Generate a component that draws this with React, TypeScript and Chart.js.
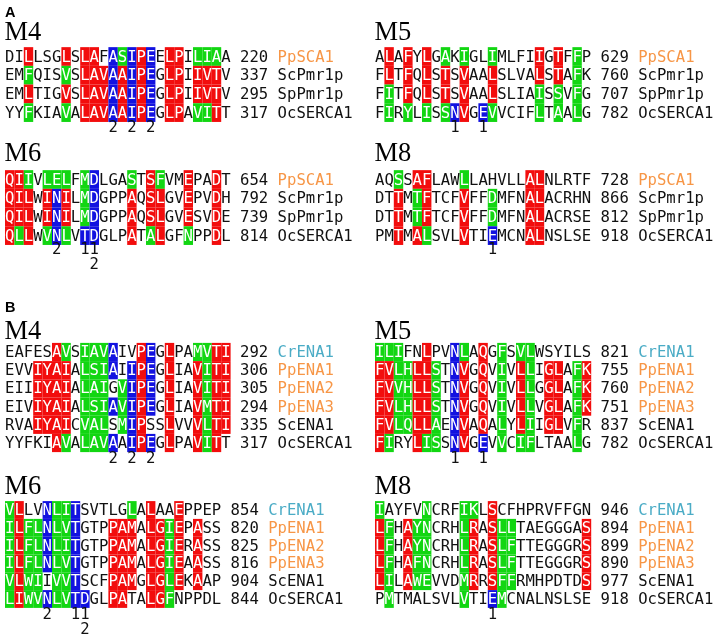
import React, { useEffect, useRef } from "react";
import { Chart, registerables } from "chart.js";
Chart.register(...registerables);

// ---------- Panel A data ----------
const A_NAMES = ["PpSCA1", "ScPmr1p", "SpPmr1p", "OcSERCA1"];

const A_M4_SEQ = [
  "DILLSGLSLAFASIPEELPILIAA",
  "EMFQISVSLAVAAIPEGLPIIVTV",
  "EMLTIGVSLAVAAIPEGLPIIVTV",
  "YYFKIAVALAVAAIPEGLPAVITT",
];
const A_M4_HL = [
  "..r...r.rr.bgbrb.rr.ggg.",
  "..g...g.rrrbrbrb.rr.rrr.",
  "..r...r.rrrbrbrb.rr.rrr.",
  "..g...g.rrrbrbrb.rr.ggr.",
];
const A_M4_NUM = ["220", "337", "295", "317"];
const A_M4_MARK_COL = [11, 13, 15];
const A_M4_MARK_TXT = ["2", "2", "2"];
const A_M4_MARK_LINE = [0, 0, 0];

const A_M5_SEQ = [
  "ALAFYLGAKIGLIMLFIIGTFFP",
  "FLTFQLSTSVAALSLVALSTAFK",
  "FITFQLSTSVAALSLIAISSVFG",
  "FIRYLISSNVGEVVCIFLTAALG",
];
const A_M5_HL = [
  ".r.r.r.g.g..g....r.r.g.",
  ".r.r.r.r.r..r....r.r.g.",
  ".g.r.r.r.r..r....g.g.g.",
  ".g.g.g.gbr.bg....g.g.g.",
];
const A_M5_NUM = ["629", "760", "707", "782"];
const A_M5_MARK_COL = [8, 11];
const A_M5_MARK_TXT = ["1", "1"];
const A_M5_MARK_LINE = [0, 0];

const A_M6_SEQ = [
  "QIIVLELFMDLGASTSFVMEPADT",
  "QILWINILMDGPPAQSLGVEPVDH",
  "QILWINILMDGPPAQSLGVESVDE",
  "QLLWVNLVTDGLPATALGFNPPDL",
];
const A_M6_HL = [
  "rrg.ggg.gb...g.rg..r..r.",
  "rrr.rbr.gb...r.rr..r..r.",
  "rrr.rbr.gb...r.rr..r..r.",
  "rgr.gbg.bb...r.gr..g..r.",
];
const A_M6_NUM = ["654", "792", "739", "814"];
const A_M6_MARK_COL = [5, 8, 9, 9];
const A_M6_MARK_TXT = ["2", "1", "1", "2"];
const A_M6_MARK_LINE = [0, 0, 0, 1];

const A_M8_SEQ = [
  "AQSSAFLAWLLAHVLLALNLRTF",
  "DTTMTFTCFVFFDMFNALACRHN",
  "DTTMTFTCFVFFDMFNALACRSE",
  "PMTMALSVLVTIEMCNALNSLSE",
];
const A_M8_HL = [
  "..g.rr...g......rr.....",
  "..r.gr...r..g...rr.....",
  "..r.gr...r..g...rr.....",
  "..r.rg...r..b...rr.....",
];
const A_M8_NUM = ["728", "866", "812", "918"];
const A_M8_MARK_COL = [12];
const A_M8_MARK_TXT = ["1"];
const A_M8_MARK_LINE = [0];

// ---------- Panel B data ----------
const B_NAMES = ["CrENA1", "PpENA1", "PpENA2", "PpENA3", "ScENA1", "OcSERCA1"];

const B_M4_SEQ = [
  "EAFESAVSIAVAIVPEGLPAMVTI",
  "EVVIYAIALSIAIIPEGLIAVITI",
  "EIIIYAIALAIGVIPEGLIAVITI",
  "EIVIYAIALSIAVIPEGLIAVMTI",
  "RVAIYAICVALSMIPSSLVVVLTI",
  "YYFKIAVALAVAAIPEGLPAVITT",
];
const B_M4_HL = [
  ".....rg.gggb..rb.r..ggrr",
  "...rrrr.gggb.brb.r..rgrr",
  "...rrrr.ggg.gbrb.r..rgrr",
  "...rrrr.gggbgbrb.r..rgrr",
  "...rrrr.ggg.gbr..r..rgrr",
  ".....rg.gggb.brb.r..rgr.",
];
const B_M4_NUM = ["292", "306", "305", "294", "335", "317"];
const B_M4_MARK_COL = [11, 13, 15];
const B_M4_MARK_TXT = ["2", "2", "2"];
const B_M4_MARK_LINE = [0, 0, 0];

const B_M5_SEQ = [
  "ILIFNLPVNLAQGFSVLWSYILS",
  "FVLHLLSTNVGQVIVLLIGLAFK",
  "FVVHLLSTNVGQVIVLLGGLAFK",
  "FVLHLLSTNVGQVIVLLVGLAFK",
  "FVLQLLAENVAQALYLIIGLVFR",
  "FIRYLISSNVGEVVCIFLTAALG",
];
const B_M5_HL = [
  "ggg..r..bg.r.g.gg......",
  "rrggrrg.br.r.g.rg.rr.gr",
  "rrggrrg.br.r.g.rg.rr.gr",
  "rrggrrg.br.r.g.rg.rr.gr",
  "rrggrrg.br.r.g.rg.rr.g.",
  "rg..rgg.br.b.g.gg....g.",
];
const B_M5_NUM = ["821", "755", "760", "751", "837", "782"];
const B_M5_MARK_COL = [8, 11];
const B_M5_MARK_TXT = ["1", "1"];
const B_M5_MARK_LINE = [0, 0];

const B_M6_SEQ = [
  "VLLVNLITSVTLGLALAAEPPEP",
  "ILFLNLVTGTPPAMALGIEPASS",
  "ILFLNLITGTPPAMALGIERASS",
  "ILFLNLVTGTPPAMALGIEAASS",
  "VLWIIVVTSCFPAMGLGLEKAAP",
  "LIWVNLVTDGLPATALGFNPPDL",
];
const B_M6_HL = [
  "gr..bggb.....g.r..r....",
  "grggbggb...rrr.rrgr.r..",
  "grggbggb...rrr.rrgr.r..",
  "grggbggb...rrr.rrgr.r..",
  "grgg.ggb...rrr.rrgr.r..",
  "grggbggbb..rr..rrg.....",
];
const B_M6_NUM = ["854", "820", "825", "816", "904", "844"];
const B_M6_MARK_COL = [4, 7, 8, 8];
const B_M6_MARK_TXT = ["2", "1", "1", "2"];
const B_M6_MARK_LINE = [0, 0, 0, 1];

const B_M8_SEQ = [
  "IAYFVNCRFIKLSCFHPRVFFGN",
  "LFHAYNCRHLRASLLTAEGGGAS",
  "LFHAYNCRHLRASLFTTEGGGRS",
  "LFHAFNCRHLRASLFTTEGGGRS",
  "LILAWEVVDMRRSFFRMHPDTDS",
  "PMTMALSVLVTIEMCNALNSLSE",
];
const B_M8_HL = [
  "g....g...gg.r..........",
  "rg.rgg...gr.rgg.......r",
  "rg.rgg...gr.rgg.......r",
  "rg.rgg...gr.rgg.......r",
  "rg.rgg...gr.rgg.......r",
  ".g.......g..bg.........",
];
const B_M8_NUM = ["946", "894", "899", "890", "977", "918"];
const B_M8_MARK_COL = [12];
const B_M8_MARK_TXT = ["1"];
const B_M8_MARK_LINE = [0];

// ---------- styles / layout ----------
const CW = 9.4;
const SEQ_FONT = "15.6px 'DejaVu Sans Mono', 'Liberation Mono', monospace";
const TITLE_FONT = "26.5px 'Liberation Serif', 'DejaVu Serif', serif";
const PANEL_FONT = "bold 14.5px 'Liberation Sans', Arial, sans-serif";
const HL_COLORS: Record<string, string> = { r: "#f20d0d", g: "#12d612", b: "#1212e0" };
const NAME_COLORS: Record<string, string> = {
  PpSCA1: "#f79646",
  PpENA1: "#f79646",
  PpENA2: "#f79646",
  PpENA3: "#f79646",
  CrENA1: "#4bacc6",
};

type Block = {
  title: string; x0: number; titleY: number; row0: number; pitch: number; markGap: number;
  seqs: string[]; hl: string[]; nums: string[]; names: string[];
  markCol: number[]; markTxt: string[]; markLine: number[];
};

const BLOCKS: Block[] = [
  { title: "M4", x0: 5, titleY: 40, row0: 56.5, pitch: 18.7, markGap: 15, seqs: A_M4_SEQ, hl: A_M4_HL, nums: A_M4_NUM, names: A_NAMES, markCol: A_M4_MARK_COL, markTxt: A_M4_MARK_TXT, markLine: A_M4_MARK_LINE },
  { title: "M5", x0: 375, titleY: 40, row0: 56.5, pitch: 18.7, markGap: 15, seqs: A_M5_SEQ, hl: A_M5_HL, nums: A_M5_NUM, names: A_NAMES, markCol: A_M5_MARK_COL, markTxt: A_M5_MARK_TXT, markLine: A_M5_MARK_LINE },
  { title: "M6", x0: 5, titleY: 160.5, row0: 179.5, pitch: 18.7, markGap: 14.5, seqs: A_M6_SEQ, hl: A_M6_HL, nums: A_M6_NUM, names: A_NAMES, markCol: A_M6_MARK_COL, markTxt: A_M6_MARK_TXT, markLine: A_M6_MARK_LINE },
  { title: "M8", x0: 375, titleY: 160.5, row0: 179.5, pitch: 18.7, markGap: 14.5, seqs: A_M8_SEQ, hl: A_M8_HL, nums: A_M8_NUM, names: A_NAMES, markCol: A_M8_MARK_COL, markTxt: A_M8_MARK_TXT, markLine: A_M8_MARK_LINE },
  { title: "M4", x0: 5, titleY: 338.5, row0: 352, pitch: 18.2, markGap: 16, seqs: B_M4_SEQ, hl: B_M4_HL, nums: B_M4_NUM, names: B_NAMES, markCol: B_M4_MARK_COL, markTxt: B_M4_MARK_TXT, markLine: B_M4_MARK_LINE },
  { title: "M5", x0: 375, titleY: 338.5, row0: 352, pitch: 18.2, markGap: 16, seqs: B_M5_SEQ, hl: B_M5_HL, nums: B_M5_NUM, names: B_NAMES, markCol: B_M5_MARK_COL, markTxt: B_M5_MARK_TXT, markLine: B_M5_MARK_LINE },
  { title: "M6", x0: 5, titleY: 493.5, row0: 510, pitch: 17.8, markGap: 16, seqs: B_M6_SEQ, hl: B_M6_HL, nums: B_M6_NUM, names: B_NAMES, markCol: B_M6_MARK_COL, markTxt: B_M6_MARK_TXT, markLine: B_M6_MARK_LINE },
  { title: "M8", x0: 375, titleY: 493.5, row0: 510, pitch: 17.8, markGap: 16, seqs: B_M8_SEQ, hl: B_M8_HL, nums: B_M8_NUM, names: B_NAMES, markCol: B_M8_MARK_COL, markTxt: B_M8_MARK_TXT, markLine: B_M8_MARK_LINE },
];

const PANEL_LABELS = [
  { text: "A", x: 5, y: 17 },
  { text: "B", x: 5, y: 312 },
];

const W = 717;
const H = 639;

const alignmentPlugin = {
  id: "alignment",
  afterDraw(chart: any) {
    const ctx: CanvasRenderingContext2D = chart.ctx;
    const xs = chart.scales.x;
    const ys = chart.scales.y;
    const px = (v: number) => xs.getPixelForValue(v);
    const py = (v: number) => ys.getPixelForValue(v);
    ctx.save();
    ctx.fillStyle = "#fff";
    ctx.fillRect(0, 0, W, H);

    ctx.fillStyle = "#000";
    ctx.font = PANEL_FONT;
    ctx.textAlign = "left";
    ctx.textBaseline = "alphabetic";
    for (const p of PANEL_LABELS) ctx.fillText(p.text, px(p.x), py(p.y));

    for (const b of BLOCKS) {
      ctx.font = TITLE_FONT;
      ctx.fillStyle = "#000";
      ctx.textAlign = "left";
      ctx.textBaseline = "alphabetic";
      ctx.fillText(b.title, px(b.x0 - 0.5), py(b.titleY));

      ctx.font = SEQ_FONT;
      ctx.textBaseline = "middle";
      b.seqs.forEach((seq, r) => {
        const yc = b.row0 + r * b.pitch;
        for (let c = 0; c < seq.length; c++) {
          const k = b.hl[r][c];
          if (k && k !== ".") {
            const x1 = px(b.x0 + c * CW);
            const x2 = px(b.x0 + (c + 1) * CW);
            const y1 = py(yc - b.pitch / 2);
            const y2 = py(yc + b.pitch / 2);
            ctx.fillStyle = HL_COLORS[k];
            ctx.fillRect(x1, y1, x2 - x1, y2 - y1);
          }
        }
        ctx.textAlign = "center";
        for (let c = 0; c < seq.length; c++) {
          const k = b.hl[r][c];
          ctx.fillStyle = k && k !== "." ? "#fff" : "#111";
          ctx.fillText(seq[c], px(b.x0 + (c + 0.5) * CW), py(yc + 1));
        }
        ctx.textAlign = "left";
        ctx.fillStyle = "#111";
        ctx.fillText(b.nums[r], px(b.x0 + (seq.length + 1) * CW), py(yc + 1));
        const name = b.names[r];
        ctx.fillStyle = NAME_COLORS[name] || "#111";
        ctx.fillText(name, px(b.x0 + (seq.length + 5) * CW), py(yc + 1));
      });
      const last = b.row0 + (b.seqs.length - 1) * b.pitch;
      ctx.textAlign = "center";
      ctx.fillStyle = "#111";
      b.markCol.forEach((c, i) => {
        const yy = last + b.markGap + b.markLine[i] * 15;
        ctx.fillText(b.markTxt[i], px(b.x0 + (c + 0.5) * CW), py(yy));
      });
    }
    ctx.restore();
  },
};

export default function App() {
  const ref = useRef<HTMLCanvasElement | null>(null);
  useEffect(() => {
    document.body.style.margin = "0";
    const canvas = ref.current!;
    const chart = new Chart(canvas, {
      type: "scatter",
      data: { datasets: [] },
      options: {
        responsive: false,
        animation: false,
        devicePixelRatio: 1,
        layout: { padding: 0 },
        plugins: { legend: { display: false }, tooltip: { enabled: false }, title: { display: false } },
        scales: {
          x: { type: "linear", min: 0, max: W, display: false },
          y: { type: "linear", min: 0, max: H, reverse: true, display: false },
        },
      },
      plugins: [alignmentPlugin],
    });
    return () => chart.destroy();
  }, []);
  return <canvas ref={ref} width={W} height={H} style={{ display: "block" }} />;
}
